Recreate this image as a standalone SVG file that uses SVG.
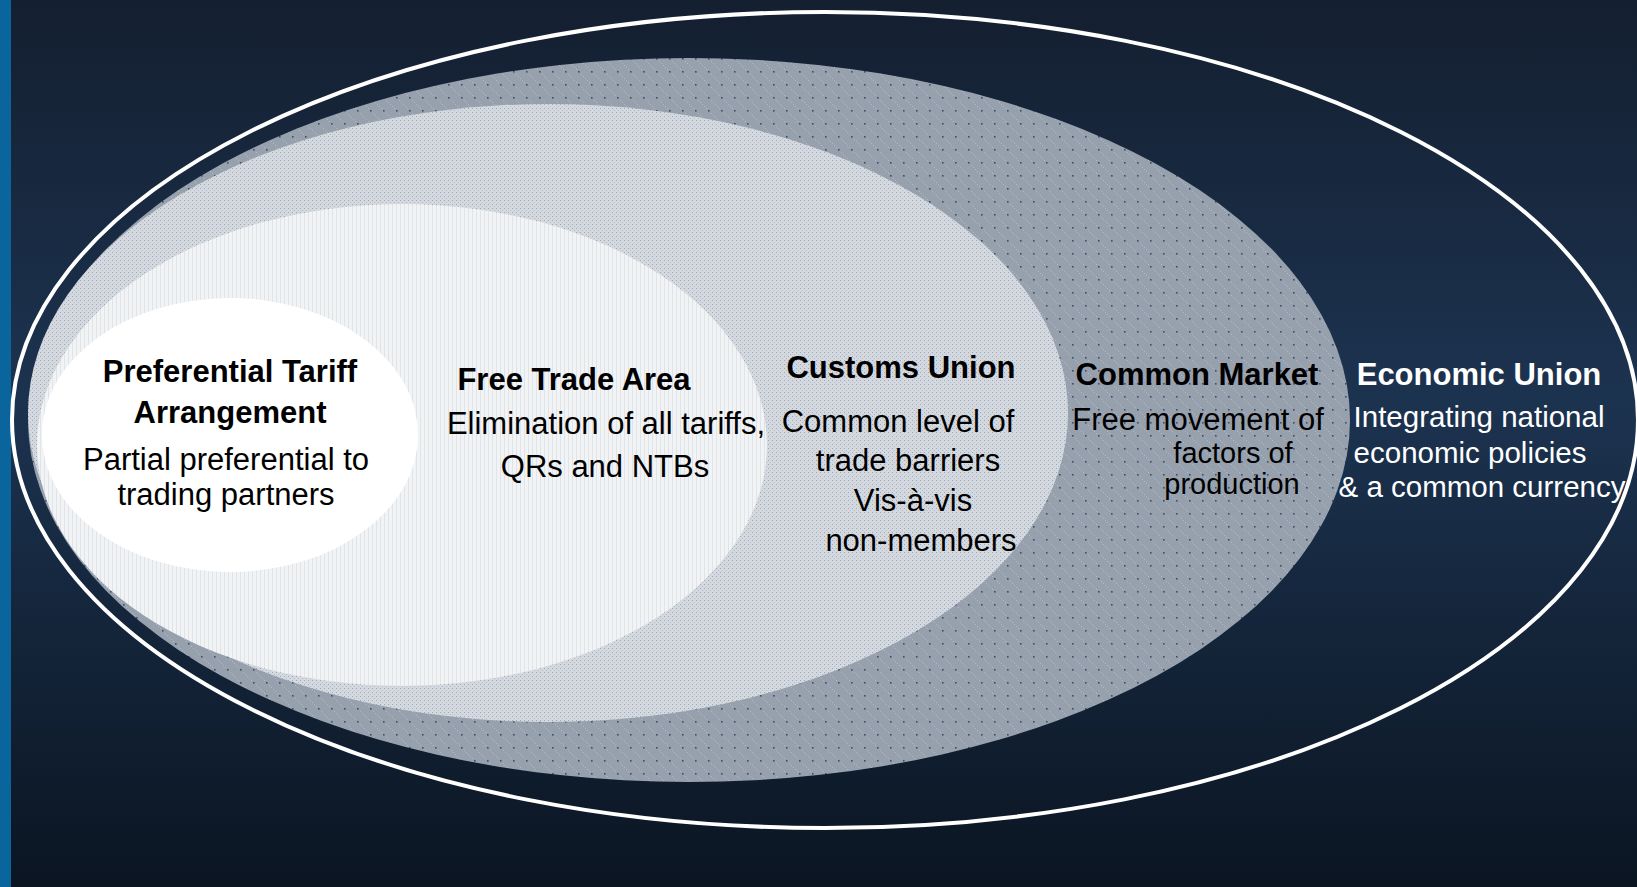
<svg xmlns="http://www.w3.org/2000/svg" width="1637" height="887" viewBox="0 0 1637 887">
<defs>
<linearGradient id="bg" x1="0" y1="0" x2="0" y2="1">
<stop offset="0" stop-color="#141f30"/>
<stop offset="0.45" stop-color="#1c3350"/>
<stop offset="1" stop-color="#0b1522"/>
</linearGradient>
<pattern id="pGray" width="13" height="13" patternUnits="userSpaceOnUse">
<rect width="13" height="13" fill="#97a1ae"/>
<rect x="0" y="0" width="1" height="1" fill="#b0b9c4"/>
<rect x="2" y="2" width="1" height="1" fill="#b0b9c4"/>
<rect x="4" y="4" width="1" height="1" fill="#b0b9c4"/>
<rect x="6" y="6" width="1.6" height="1.6" fill="#3e4f68"/>
<rect x="9" y="9" width="1" height="1" fill="#b0b9c4"/>
<rect x="11" y="11" width="1" height="1" fill="#b0b9c4"/>
</pattern>
<pattern id="pCustoms" width="4" height="4" patternUnits="userSpaceOnUse">
<rect width="4" height="4" fill="#d4d9df"/>
<rect x="0" y="0" width="1" height="1" fill="#9ea8b4"/>
<rect x="2" y="2" width="1" height="1" fill="#b4bcc6"/>
</pattern>
<pattern id="pFta" width="4" height="4" patternUnits="userSpaceOnUse">
<rect width="4" height="4" fill="#f1f3f5"/>
<rect x="0" y="0" width="0.7" height="4" fill="#d9dee4"/>
</pattern>
<style>
.t{font-family:"Liberation Sans",Arial,sans-serif;font-size:31px;text-anchor:middle;fill:#000}
.b{font-weight:bold}
.w{fill:#fff}
.s{font-size:29.5px}
.n{font-size:29px}
</style>
</defs>
<rect width="1637" height="887" fill="url(#bg)"/>
<rect x="0" y="0" width="11" height="887" fill="#0a659c"/>
<g id="economic-union">
<ellipse cx="825" cy="420" rx="813" ry="408" fill="none" stroke="#fff" stroke-width="4"/>
<text class="t b w" x="1479" y="385">Economic Union</text>
<text class="t w s" x="1479" y="427">Integrating national</text>
<text class="t w s" x="1470" y="463">economic policies</text>
<text class="t w s" x="1482" y="497">&amp; a common currency</text>
</g>
<g id="common-market">
<ellipse cx="689" cy="420" rx="661" ry="362" fill="url(#pGray)"/>
<text class="t b" x="1197" y="385">Common Market</text>
<text class="t" x="1198" y="430">Free movement of</text>
<text class="t n" x="1233" y="463">factors of</text>
<text class="t n" x="1232" y="494">production</text>
</g>
<g id="customs-union">
<ellipse cx="548" cy="413" rx="520" ry="309" fill="url(#pCustoms)"/>
<text class="t b" x="901" y="378">Customs Union</text>
<text class="t" x="898" y="432">Common level of</text>
<text class="t" x="908" y="471">trade barriers</text>
<text class="t" x="913" y="511">Vis-à-vis</text>
<text class="t" x="921" y="551">non-members</text>
</g>
<g id="free-trade-area">
<ellipse cx="402" cy="445" rx="365" ry="241" fill="url(#pFta)"/>
<text class="t b" x="574" y="390">Free Trade Area</text>
<text class="t" x="606" y="434">Elimination of all tariffs,</text>
<text class="t" x="605" y="477">QRs and NTBs</text>
</g>
<g id="preferential-tariff-arrangement">
<ellipse cx="230" cy="435" rx="188" ry="137" fill="#fff"/>
<text class="t b" x="230" y="382">Preferential Tariff</text>
<text class="t b" x="230" y="423">Arrangement</text>
<text class="t" x="226" y="470">Partial preferential to</text>
<text class="t" x="226" y="505">trading partners</text>
</g>
<g id="connectors"/>
</svg>
